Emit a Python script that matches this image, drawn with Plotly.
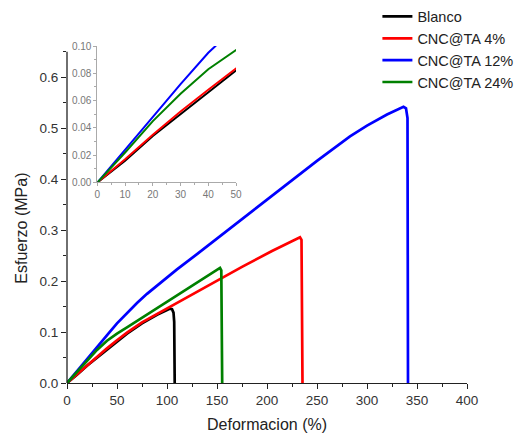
import plotly.graph_objects as go

# stress-strain curves
blanco_x = [0, 10, 20, 30, 40, 50, 60, 75, 90, 100, 103, 105, 106.5, 107.2, 107.5, 107.7]
blanco_y = [0, 0.016, 0.034, 0.050, 0.066, 0.082, 0.097, 0.117, 0.134, 0.143, 0.146, 0.145, 0.138, 0.12, 0.06, 0]

cnc4_x = [0, 10, 20, 30, 40, 50, 60, 75, 95, 125, 150, 175, 205, 230, 233, 234.5, 235, 235.5]
cnc4_y = [0, 0.017, 0.035, 0.052, 0.068, 0.084, 0.099, 0.119, 0.141, 0.174, 0.201, 0.228, 0.259, 0.284, 0.286, 0.281, 0.2, 0]

cnc12_x = [0, 5, 10, 20, 30, 40, 42.6, 50, 60, 70, 80, 93, 110, 130, 161.7, 183, 205, 230, 250, 283, 300, 320, 330, 336.5, 339, 340.5, 341]
cnc12_y = [0, 0.012, 0.024, 0.048, 0.072, 0.095, 0.1, 0.117, 0.138, 0.157, 0.175, 0.196, 0.223, 0.253, 0.301, 0.334, 0.367, 0.405, 0.436, 0.484, 0.505, 0.527, 0.537, 0.542, 0.539, 0.52, 0]

cnc24_x = [0, 5, 10, 20, 30, 40, 50, 60, 75, 95, 110, 130, 150, 153, 154.3, 154.8, 155.2]
cnc24_y = [0, 0.011, 0.022, 0.045, 0.065, 0.083, 0.097, 0.109, 0.128, 0.154, 0.172, 0.197, 0.222, 0.226, 0.221, 0.15, 0]

names = ["Blanco", "CNC@TA 4%", "CNC@TA 12%", "CNC@TA 24%"]
colors = ["#000000", "#ff0000", "#0000ff", "#008000"]
series = [(blanco_x, blanco_y), (cnc4_x, cnc4_y), (cnc12_x, cnc12_y), (cnc24_x, cnc24_y)]

FONT = "Arial, Liberation Sans, sans-serif"

fig = go.Figure()

# main plot
for name, col, (x, y) in zip(names, colors, series):
    fig.add_trace(go.Scatter(x=x, y=y, mode="lines", name=name,
                             line=dict(color=col, width=2.7)))

# inset (same data, zoomed)
for name, col, (x, y) in zip(names, colors, series):
    fig.add_trace(go.Scatter(x=x, y=y, mode="lines", showlegend=False,
                             xaxis="x2", yaxis="y2",
                             line=dict(color=col, width=2)))

# page body has an 8px margin, so the figure is 8px smaller and shifted
fig.update_layout(
    width=520, height=427,
    margin=dict(l=59, r=61, t=38, b=52, autoexpand=False),
    paper_bgcolor="white", plot_bgcolor="white",
    font=dict(family=FONT, color="#222"),
    xaxis=dict(range=[0, 400], dtick=50, showgrid=False, zeroline=False,
               showline=True, linecolor="#222", linewidth=1.3,
               ticks="outside", ticklen=5, tickwidth=1.3, tickcolor="#222",
               minor=dict(dtick=25, ticks="outside", ticklen=3, tickcolor="#222"),
               tickfont=dict(size=13.5, color="#333")),
    yaxis=dict(range=[0, 0.6614], tickvals=[0, 0.1, 0.2, 0.3, 0.4, 0.5, 0.6],
               tickformat=".1f", showgrid=False, zeroline=False,
               showline=False,
               ticks="outside", ticklen=5, tickwidth=1.3, tickcolor="#222",
               minor=dict(tickvals=[0.05, 0.15, 0.25, 0.35, 0.45, 0.55, 0.65],
                          ticks="outside", ticklen=3, tickcolor="#222"),
               tickfont=dict(size=13.5, color="#333")),
    xaxis2=dict(domain=[0.076, 0.4225], anchor="y2", range=[0, 50], dtick=10,
                showgrid=False, zeroline=False, showline=True,
                linecolor="#aaaaaa", linewidth=1,
                ticks="outside", ticklen=3, tickcolor="#aaaaaa",
                minor=dict(dtick=5, ticks="outside", ticklen=2, tickcolor="#aaaaaa"),
                tickfont=dict(size=10, color="#777")),
    yaxis2=dict(domain=[0.595, 1.0], anchor="x2", range=[0, 0.1], dtick=0.02,
                tickformat=".2f", showgrid=False, zeroline=False, showline=True,
                linecolor="#aaaaaa", linewidth=1,
                ticks="outside", ticklen=3, tickcolor="#aaaaaa",
                minor=dict(dtick=0.01, ticks="outside", ticklen=2, tickcolor="#aaaaaa"),
                tickfont=dict(size=10, color="#777")),
    legend=dict(x=0.776, y=1.135, xanchor="left", yanchor="top",
                bgcolor="rgba(0,0,0,0)", font=dict(size=14.5, color="#222"),
                tracegroupgap=0),
    showlegend=True,
)

# y axis line stops at 0.65 like the original
fig.add_shape(type="line", xref="paper", yref="y", x0=0, x1=0, y0=0, y1=0.65,
              line=dict(color="#222", width=1.3))

fig.add_annotation(text="Esfuerzo (MPa)", xref="paper", yref="paper",
                   x=-0.1125, y=0.458, xanchor="center", yanchor="middle",
                   textangle=-90, showarrow=False,
                   font=dict(size=16, color="#222"))
fig.add_annotation(text="Deformacion (%)", xref="paper", yref="paper",
                   x=0.5, y=-0.124, xanchor="center", yanchor="middle",
                   showarrow=False, font=dict(size=16, color="#222"))

fig.write_html("out.html")
